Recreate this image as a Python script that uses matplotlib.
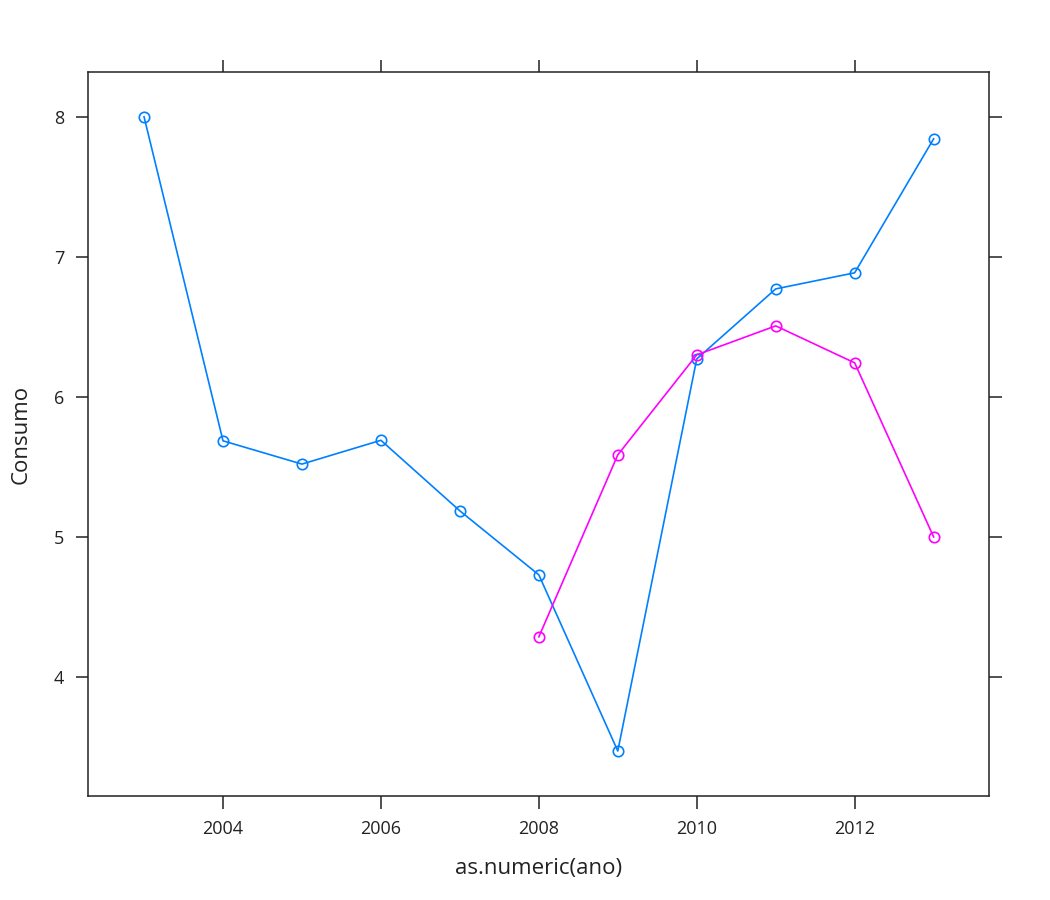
import matplotlib
matplotlib.use("Agg")
import matplotlib.pyplot as plt

plt.rcParams['font.family'] = ['Open Sans', 'DejaVu Sans']

# dados
anos_a = [2003, 2004, 2005, 2006, 2007, 2008, 2009, 2010, 2011, 2012, 2013]
consumo_a = [8.00, 5.686, 5.52, 5.69, 5.186, 4.729, 3.471, 6.271, 6.771, 6.886, 7.843]
anos_b = [2008, 2009, 2010, 2011, 2012, 2013]
consumo_b = [4.286, 5.586, 6.30, 6.507, 6.243, 5.00]

x_ticks = [2004, 2006, 2008, 2010, 2012]
y_ticks = [4, 5, 6, 7, 8]

fig = plt.figure(figsize=(10.5, 9), dpi=100)
ax = fig.add_axes([0.0838, 0.1156, 0.858, 0.8044])

ax.plot(anos_a, consumo_a, color='#0080ff', lw=1.2, marker='o', ms=7.5,
        mfc='none', mec='#0080ff', mew=1.2)
ax.plot(anos_b, consumo_b, color='#ff00ff', lw=1.2, marker='o', ms=7.5,
        mfc='none', mec='#ff00ff', mew=1.2)

ax.set_xlim(2002.29, 2013.70)
ax.set_ylim(3.15, 8.32)
ax.set_xticks(x_ticks)
ax.set_yticks(y_ticks)
ax.tick_params(direction='out', length=9, width=1.1, color='#222222',
               labelsize=13, top=True, right=True, pad=8, labelcolor='#222222')
for s in ax.spines.values():
    s.set_linewidth(1.1)
    s.set_color('#222222')

ax.set_xlabel('as.numeric(ano)', fontsize=16, labelpad=15, color='#222222')
ax.set_ylabel('Consumo', fontsize=16, labelpad=16, color='#222222')

fig.savefig('out.png', dpi=100)
